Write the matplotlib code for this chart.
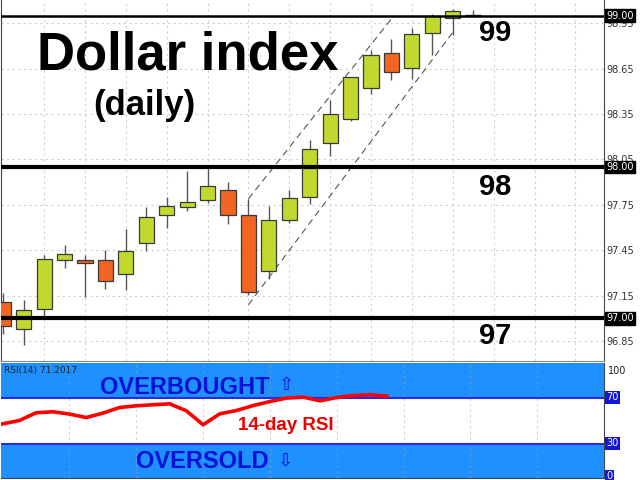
import matplotlib
matplotlib.use('Agg')
import matplotlib.pyplot as plt
import matplotlib.transforms as mtransforms

# ---- data ----
opens = [97.106, 96.932, 97.064, 97.383, 97.383, 97.383, 97.294, 97.496, 97.682, 97.733,
         97.782, 97.850, 97.682, 97.312, 97.651, 97.802, 98.161, 98.320, 98.520, 98.752,
         98.656, 98.889, 98.985, 99.005]
highs = [97.168, 97.118, 97.417, 97.483, 97.417, 97.452, 97.593, 97.733, 97.799, 97.972,
         98.000, 97.904, 97.789, 97.744, 97.850, 98.181, 98.442, 98.595, 98.774, 98.847,
         98.918, 99.010, 99.047, 99.035]
lows = [96.894, 96.825, 97.013, 97.330, 97.141, 97.191, 97.184, 97.445, 97.600, 97.711,
        97.760, 97.623, 97.157, 97.261, 97.629, 97.755, 98.076, 98.304, 98.480, 98.575,
        98.579, 98.741, 98.874, 98.995]
closes = [96.947, 97.058, 97.394, 97.423, 97.363, 97.250, 97.445, 97.671, 97.742, 97.771,
          97.872, 97.682, 97.175, 97.651, 97.793, 98.121, 98.349, 98.593, 98.741, 98.630,
          98.878, 99.000, 99.029, 99.006]
rsi = [47.1, 50.0, 56.7, 57.6, 55.6, 52.6, 56.4, 61.3, 62.8, 63.7, 64.5, 58.4,
       46.3, 55.8, 58.7, 63.0, 66.5, 69.5, 70.3, 67.1, 70.0, 71.7, 72.3, 71.2]
levels = [97.0, 98.0, 99.0]
level_labels = ['97.00', '98.00', '99.00']
level_big = ['97', '98', '99']
price_ticks = [96.85, 97.15, 97.45, 97.75, 98.05, 98.35, 98.65, 98.95]
price_tick_labels = ['96.85', '97.15', '97.45', '97.75', '98.05', '98.35', '98.65', '98.95']
channel_upper = [(12, 97.79), (19, 98.98)]
channel_lower = [(12, 97.09), (22, 98.89)]

GREEN = '#C2D82E'
RED = '#F26522'
EDGE = '#3a3a3a'
BAND = '#1E90FF'
BLUE_TXT = '#0010D8'

fig = plt.figure(figsize=(6.4, 4.8), dpi=100)
W, H = 640.0, 480.0
left = 1 / W
width = 604 / W - left

# ---- main price panel ----
ax = fig.add_axes([left, 1 - 361 / H, width, 361 / H])
ax.set_xlim(-0.11, 29.4)
ax.set_ylim(96.718, 99.104)

for gx in range(2, 30, 2):
    ax.axvline(gx, color='#cfcfcf', lw=0.8, ls=(0, (2, 3)), zorder=0)
for gy in price_ticks:
    ax.axhline(gy, color='#cfcfcf', lw=0.8, ls=(0, (2, 3)), zorder=0)

xs = list(range(len(opens)))
for i in xs:
    o, h, l, c = opens[i], highs[i], lows[i], closes[i]
    ax.vlines(i, l, h, color='#555555', lw=1.0, zorder=2)
    body = abs(c - o)
    if body < 0.004:
        ax.hlines(o, i - 0.38, i + 0.38, color='#333333', lw=1.0, zorder=3)
    else:
        ax.bar(i, body, bottom=min(o, c), width=0.74,
               color=GREEN if c >= o else RED, edgecolor=EDGE, linewidth=0.9, zorder=3)

for seg in (channel_upper, channel_lower):
    ax.plot([seg[0][0], seg[1][0]], [seg[0][1], seg[1][1]], color='#555555',
            lw=0.8, ls=(0, (6, 4)), zorder=1)

for lv, lw_ in zip(levels, [3.0, 3.0, 1.8]):
    ax.axhline(lv, color='black', lw=lw_, zorder=4)

ax.yaxis.tick_right()
ax.set_yticks(price_ticks)
ax.set_yticklabels(price_tick_labels, fontsize=7, color='#333333')
ax.tick_params(axis='y', length=0, pad=2)
ax.set_xticks([])
ax.spines['top'].set_visible(False)
ax.spines['right'].set_color('#444444')
ax.spines['left'].set_color('#444444')
ax.spines['bottom'].set_color('#888888')

trans = mtransforms.blended_transform_factory(ax.transAxes, ax.transData)
for lv, lab in zip(levels, level_labels):
    ax.text(1.004, lv, lab, transform=trans, fontsize=7, color='white', va='center', ha='left',
            bbox=dict(boxstyle='square,pad=0.15', fc='black', ec='black'), zorder=6, clip_on=False)

bold = dict(family=['Liberation Sans', 'DejaVu Sans'], weight='bold')
fig.text(187.5 / W, 1 - 56 / H, 'Dollar index', fontsize=38, color='black', ha='center', va='center', **bold)
fig.text(144 / W, 1 - 105 / H, '(daily)', fontsize=25, color='black', ha='center', va='center', **bold)
for lab, py in zip(level_big, [336, 186.7, 33.3]):
    fig.text(495 / W, 1 - py / H, lab, fontsize=21, color='black', ha='center', va='center', **bold)

# ---- RSI panel ----
ax2 = fig.add_axes([left, 1 - 478 / H, width, 115 / H])
ax2.set_xlim(-0.1, 36.0)
ax2.set_ylim(0, 100)
ax2.axhspan(70, 100, color=BAND, zorder=1, lw=0)
ax2.axhspan(0, 30, color=BAND, zorder=1, lw=0)
for gx in range(4, 36, 4):
    ax2.axvline(gx, color='#a8a8a8', alpha=0.55, lw=0.8, ls=(0, (2, 3)), zorder=1.5)
ax2.axhline(70, color='#2a2ae0', lw=1.5, zorder=2)
ax2.axhline(30, color='#2a2ae0', lw=1.5, zorder=2)
ax2.plot(range(len(rsi)), rsi, color='#FF0000', lw=2.6, zorder=3, solid_joinstyle='round')
ax2.set_xticks([])
ax2.set_yticks([])
ax2.spines['top'].set_visible(False)
ax2.spines['left'].set_visible(False)
ax2.spines['right'].set_color('#444444')
ax2.spines['bottom'].set_color('#444444')

trans2 = mtransforms.blended_transform_factory(ax2.transAxes, ax2.transData)
ax2.text(1.006, 93, '100', transform=trans2, fontsize=7, color='#222222', va='center', ha='left', clip_on=False)
for v in [70, 30]:
    ax2.text(1.004, v, str(v), transform=trans2, fontsize=7, color='white', va='center', ha='left',
             bbox=dict(boxstyle='square,pad=0.12', fc='#1515E0', ec='none'), clip_on=False)
ax2.text(1.004, 2, '0', transform=trans2, fontsize=7, color='white', va='center', ha='left',
         bbox=dict(boxstyle='square,pad=0.1', fc='#1515E0', ec='none'), clip_on=False)

ax2.text(0.005, 0.97, 'RSI(14) 71.2017', transform=ax2.transAxes, fontsize=6.5, color='#222222',
         va='top', ha='left', zorder=5)
fig.text(185 / W, 1 - 387 / H, 'OVERBOUGHT', fontsize=17, color=BLUE_TXT, ha='center', va='center', **bold)
fig.text(286 / W, 1 - 385 / H, '\u21e7', fontsize=13, color=BLUE_TXT, ha='center', va='center',
         family=['DejaVu Sans'])
fig.text(202 / W, 1 - 461 / H, 'OVERSOLD', fontsize=17, color=BLUE_TXT, ha='center', va='center', **bold)
fig.text(285 / W, 1 - 461 / H, '\u21e9', fontsize=13, color=BLUE_TXT, ha='center', va='center',
         family=['DejaVu Sans'])
fig.text(286 / W, 1 - 425 / H, '14-day RSI', fontsize=13.5, color='#EE0000', ha='center', va='center', **bold)

fig.savefig('out.png', dpi=100)
